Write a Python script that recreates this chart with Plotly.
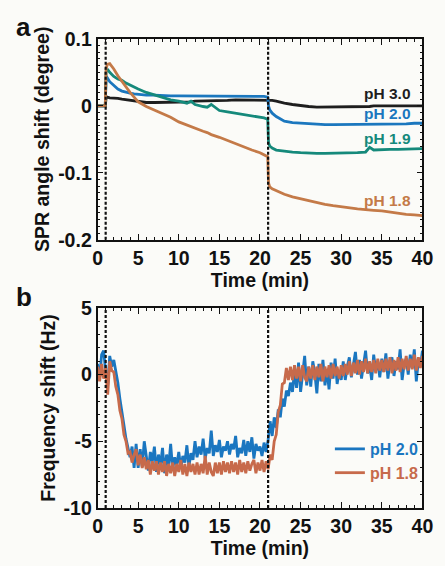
import plotly.graph_objects as go

# ---------------- Panel a data (SPR angle shift, degree) ----------------
t_a = [0, 0.5, 0.95, 1.05, 1.2, 1.5, 2, 2.5, 3, 3.5, 4, 4.5, 5, 6, 7, 8, 9, 10,
       11, 11.5, 12, 13, 13.5, 14, 15, 16, 17, 18, 19, 20, 20.5, 20.95, 21.05,
       21.2, 21.5, 22, 22.5, 23, 24, 25, 26, 27, 28, 29, 30, 31, 32, 33, 33.5,
       34, 35, 36, 37, 38, 39, 40]
spr_ph30 = [0, 0, 0, 0.011, 0.013, 0.012, 0.012, 0.011, 0.010, 0.009, 0.008, 0.007,
            0.006, 0.005, 0.005, 0.005, 0.005, 0.006, 0.006, 0.006, 0.007, 0.007,
            0.007, 0.007, 0.008, 0.008, 0.009, 0.009, 0.009, 0.009, 0.009, 0.009,
            0.009, 0.009, 0.008, 0.007, 0.005, 0.004, 0.002, 0.000, -0.001, -0.002,
            -0.002, -0.002, -0.002, -0.002, -0.001, -0.001, -0.001, 0.000, 0.000,
            0.000, 0.000, 0.001, 0.001, 0.000]
spr_ph20 = [0, 0, 0, 0.040, 0.042, 0.036, 0.030, 0.025, 0.022, 0.020, 0.019, 0.018,
            0.017, 0.016, 0.016, 0.015, 0.015, 0.015, 0.015, 0.015, 0.015, 0.014,
            0.014, 0.014, 0.015, 0.015, 0.015, 0.015, 0.014, 0.014, 0.014, 0.013,
            0.000, -0.006, -0.011, -0.016, -0.020, -0.023, -0.025, -0.026, -0.027,
            -0.028, -0.028, -0.028, -0.028, -0.028, -0.028, -0.027, -0.027, -0.027,
            -0.027, -0.027, -0.027, -0.027, -0.026, -0.026]
spr_ph19 = [0, 0, 0, 0.050, 0.055, 0.050, 0.044, 0.040, 0.038, 0.034, 0.031, 0.027,
            0.025, 0.020, 0.016, 0.012, 0.009, 0.007, 0.004, 0.007, 0.002, -0.001,
            -0.002, 0.002, -0.007, -0.009, -0.011, -0.013, -0.014, -0.016, -0.018,
            -0.020, -0.055, -0.060, -0.063, -0.066, -0.067, -0.068, -0.069, -0.070,
            -0.071, -0.071, -0.071, -0.071, -0.071, -0.070, -0.070, -0.069, -0.062,
            -0.066, -0.065, -0.065, -0.065, -0.065, -0.065, -0.064]
spr_ph18 = [0, 0, 0, 0.055, 0.062, 0.063, 0.055, 0.045, 0.036, 0.028, 0.020, 0.013,
            0.006, -0.001, -0.006, -0.011, -0.017, -0.024, -0.029, -0.031, -0.034,
            -0.038, -0.040, -0.043, -0.047, -0.052, -0.056, -0.061, -0.066, -0.070,
            -0.073, -0.076, -0.115, -0.121, -0.124, -0.127, -0.129, -0.132, -0.136,
            -0.139, -0.142, -0.144, -0.147, -0.149, -0.151, -0.153, -0.154, -0.155,
            -0.155, -0.156, -0.157, -0.159, -0.161, -0.162, -0.163, -0.164]

# ---------------- Panel b data (frequency shift, Hz), sampled every 0.25 min --------
t_step_b = 0.25
freq_ph20 = [
    0.8, -0.3, 1.5, 1.8, 0.2, -0.8, 1.4, 0.6, 1.1, 0.3, -0.6, -1.8, -3.0, -3.8, -4.8,
    -5.4, -6.2, -5.4, -7.0,
    -5.2, -7.0, -5.6, -6.9, -5.0, -6.2, -7.2, -5.8, -6.5, -5.4, -7.3, -6.0, -6.8, -5.5,
    -7.4, -6.0, -6.9, -5.2, -7.1, -6.2, -6.8, -5.8, -7.0, -6.1, -6.6, -5.3, -6.9, -5.9,
    -6.4, -5.0,
    -6.2, -5.4, -6.0, -4.8, -6.3, -5.5, -5.9, -4.2, -6.1, -5.3, -5.8, -4.9, -6.2, -5.4,
    -5.7, -5.0,
    -6.0, -5.2, -5.6, -4.6, -6.2, -5.5, -5.9, -4.9, -6.1, -5.0, -5.8, -4.7, -6.3, -5.2,
    -5.7, -5.4,
    -6.1, -5.1, -5.8, -4.9,
    -3.5, -4.6, -3.2, -4.0, -2.6, -3.2, -1.8, -2.4, -1.2, -1.6,
    -0.6, -1.3, 0.3, -1.0, 0.9, -1.3, 0.2, 1.4, -0.8, 0.6,
    -0.9, 1.0, 0.1, -1.4, 0.8, -0.5, 1.1, -0.8, 0.4, -1.1, 0.9, -0.3, 1.2, -0.7, 0.3, -0.4,
    1.0, -0.4, 0.6, 1.3, -0.2, 0.8, 1.7, 0.0, 1.1, -0.3, 0.9, 1.8, 0.1, 0.7, -0.4, 1.5,
    0.3, 1.0, -0.2, 1.2,
    0.2, 1.6, -0.3, 0.9, 1.3, -0.1, 1.0, 0.4, 1.9, -0.4, 0.8, 1.2, 0.0, 1.5, 0.5, 1.9,
    -0.5, 1.1, 0.6, 1.8]
freq_ph18 = [
    0.6, -0.5, 0.8, -0.3, 0.5, -1.5, 1.0, 0.3, 0.2, -0.9, -1.5, -2.7, -3.3, -4.5, -5.0,
    -5.9, -5.8, -6.6, -6.0,
    -5.6, -6.8, -6.0, -7.0, -6.2, -7.1, -6.4, -7.5, -6.5, -7.2, -6.5, -7.5, -6.6, -7.3,
    -6.5, -7.6, -6.7, -7.4, -6.6, -7.6, -6.7, -7.3, -6.4, -7.5, -6.7, -7.6, -6.6, -7.3,
    -6.7, -7.5,
    -6.6, -7.5, -6.7, -7.4, -6.1, -7.5, -6.6, -7.3, -7.6, -6.6, -7.4, -6.6, -7.5, -6.5,
    -7.3, -6.6,
    -7.4, -6.5, -7.3, -6.6, -7.5, -6.4, -7.3, -6.6, -7.4, -6.5, -7.2, -6.7, -6.4, -7.4,
    -6.6, -7.2,
    -6.4, -7.3, -6.5, -7.1,
    -6.0, -6.4, -5.0, -4.5, -2.8, -2.3, -0.7, -0.6, 0.5, -0.4,
    0.6, -0.4, 0.7, -0.3, 0.6, -0.5, 0.7, -0.2, -0.5, 0.6,
    -0.3, 0.7, -0.4, 0.6, -0.2, 0.8, -0.5, 0.6, -0.2, 0.7, -0.3, 0.8, -0.1, 0.6, -0.3, 0.7,
    -0.1, 0.8, 0.0, 1.0, -0.1, 0.9, 0.1, 1.1, 0.0, 1.0, 0.2, 1.2, 0.1, 1.0, 0.2, 1.1,
    0.1, 1.2, 0.3, 1.1,
    0.2, 1.2, 0.3, 1.3, 0.1, 1.1, 0.3, 1.3, 0.2, 1.2, 0.4, 1.4, 0.3, 1.2, 0.4, 1.5,
    0.3, 1.3, 0.5, 1.4]
t_b = [i * t_step_b for i in range(len(freq_ph20))]

injection_times = [1, 21]
x_ticks = [0, 5, 10, 15, 20, 25, 30, 35, 40]
ya_ticks = [-0.2, -0.1, 0, 0.1]
ya_ticktext = ["-0.2", "-0.1", "0", "0.1"]
yb_ticks = [-10, -5, 0, 5]
yb_ticktext = ["-10", "-5", "0", "5"]

# ---------------- Styling ----------------
C_BLACK = "#1e1e1e"
C_BLUE = "#1b77be"
C_TEAL = "#15897b"
C_ORANGE_A = "#c47a48"
C_BLUE_B = "#1a76c0"
C_ORANGE_B = "#c76a4b"
FONT = "Liberation Sans, Arial, sans-serif"
BG = "#fbfbf8"

fig = go.Figure()

for y, c in [(spr_ph30, C_BLACK), (spr_ph20, C_BLUE), (spr_ph19, C_TEAL), (spr_ph18, C_ORANGE_A)]:
    fig.add_trace(go.Scatter(x=t_a, y=y, mode="lines", line=dict(color=c, width=2.8),
                             xaxis="x", yaxis="y", showlegend=False))

fig.add_trace(go.Scatter(x=t_b, y=freq_ph20, mode="lines", line=dict(color=C_BLUE_B, width=2.8),
                         xaxis="x2", yaxis="y2",
                         name="<span style='color:%s'>pH 2.0</span>" % C_BLUE_B))
fig.add_trace(go.Scatter(x=t_b, y=freq_ph18, mode="lines", line=dict(color=C_ORANGE_B, width=2.8),
                         xaxis="x2", yaxis="y2",
                         name="<span style='color:%s'>pH 1.8</span>" % C_ORANGE_B))

W, H = 445, 566
xdom = [96 / W, 433 / W]
ya_dom = [1 - 238 / H, 1 - 29 / H]
yb_dom = [1 - 517 / H, 1 - 309 / H]

tickfont = dict(family=FONT, size=19.5, color="#111", weight="bold")
titlefont = dict(family=FONT, size=19.5, color="#111", weight="bold")


def xaxis_cfg(anchor, title):
    return dict(domain=xdom, anchor=anchor, range=[0, 40], tickvals=x_ticks,
                ticks="inside", ticklen=6, tickwidth=1.3, tickcolor="#111",
                minor=dict(dtick=1, ticks="inside", ticklen=3, tickwidth=1, tickcolor="#111"),
                showline=True, linecolor="#111", linewidth=1.8, mirror="ticks",
                showgrid=False, zeroline=False, tickfont=tickfont,
                title=dict(text=title, font=titlefont, standoff=0))


def yaxis_cfg(anchor, dom, rng, tv, tt, mdt, title):
    return dict(domain=dom, anchor=anchor, range=rng, tickvals=tv, ticktext=tt,
                ticks="inside", ticklen=6, tickwidth=1.3, tickcolor="#111",
                minor=dict(dtick=mdt, ticks="inside", ticklen=3, tickwidth=1, tickcolor="#111"),
                showline=True, linecolor="#111", linewidth=1.8, mirror="ticks",
                showgrid=False, zeroline=False, tickfont=tickfont,
                title=dict(text=title, font=titlefont, standoff=3))


shapes = []
for xr, yr in [("x", "y domain"), ("x2", "y2 domain")]:
    for ti in injection_times:
        shapes.append(dict(type="line", xref=xr, yref=yr, x0=ti, x1=ti, y0=0, y1=1,
                           line=dict(color="#111", width=2.2, dash="3px,2px")))

annotations = [
    dict(text="<b>a</b>", x=9 / W, y=1 - 17 / H, xref="paper", yref="paper",
         xanchor="left", yanchor="middle", showarrow=False,
         font=dict(family=FONT, size=26, color="#111")),
    dict(text="<b>b</b>", x=9 / W, y=1 - 298 / H, xref="paper", yref="paper",
         xanchor="left", yanchor="middle", showarrow=False,
         font=dict(family=FONT, size=26, color="#111")),
]
for txt, yv, c in [("pH 3.0", 0.018, C_BLACK), ("pH 2.0", -0.012, C_BLUE),
                   ("pH 1.9", -0.049, C_TEAL), ("pH 1.8", -0.142, C_ORANGE_A)]:
    annotations.append(dict(text=txt, x=38.9, y=yv, xref="x", yref="y",
                            xanchor="right", yanchor="middle", showarrow=False,
                            font=dict(family=FONT, size=15.5, color=c, weight="bold")))

fig.update_layout(
    width=W, height=H, margin=dict(l=0, r=0, t=0, b=0),
    paper_bgcolor=BG, plot_bgcolor=BG,
    xaxis=xaxis_cfg("y", "Time (min)"),
    yaxis=yaxis_cfg("x", ya_dom, [-0.2, 0.1], ya_ticks, ya_ticktext, 0.01, "SPR angle shift (degree)"),
    xaxis2=xaxis_cfg("y2", "Time (min)"),
    yaxis2=yaxis_cfg("x2", yb_dom, [-10, 5], yb_ticks, yb_ticktext, 1, "Frequency shift (Hz)"),
    shapes=shapes, annotations=annotations,
    legend=dict(x=337 / W, y=1 - 438 / H, xanchor="left", yanchor="top",
                bgcolor="rgba(0,0,0,0)", font=dict(family=FONT, size=16, weight="bold"),
                itemwidth=30, tracegroupgap=0),
    showlegend=True,
)

fig.write_html("out.html")
